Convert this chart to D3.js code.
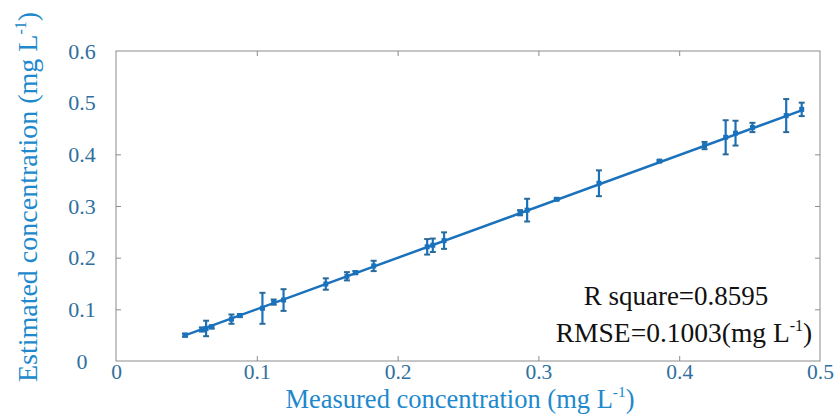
<!DOCTYPE html>
<html>
<head>
<meta charset="utf-8">
<script src="https://cdn.jsdelivr.net/npm/d3@7"></script>
<style>
  body { margin: 0; background: #fff; }
  svg text { font-family: "Liberation Serif", "Times New Roman", serif; }
</style>
</head>
<body>
<div id="chart"></div>
<script>
// measured vs estimated concentration (mg L-1), with error bar half-widths
const measured  = [0.049, 0.061, 0.064, 0.068, 0.082, 0.088, 0.104, 0.112, 0.119, 0.149, 0.164, 0.170, 0.183, 0.221, 0.225, 0.233, 0.287, 0.292, 0.313, 0.343, 0.386, 0.418, 0.433, 0.440, 0.452, 0.476, 0.487];
const estimated = [0.050, 0.061, 0.063, 0.066, 0.081, 0.088, 0.102, 0.114, 0.118, 0.149, 0.164, 0.171, 0.184, 0.221, 0.224, 0.233, 0.287, 0.292, 0.313, 0.344, 0.387, 0.417, 0.433, 0.441, 0.452, 0.475, 0.487];
const errors    = [0.003, 0.004, 0.015, 0.003, 0.009, 0.003, 0.030, 0.005, 0.021, 0.011, 0.008, 0.003, 0.010, 0.015, 0.013, 0.016, 0.005, 0.022, 0.002, 0.025, 0.002, 0.007, 0.033, 0.024, 0.009, 0.032, 0.013];

// fitted line end points
const fitX = [0.049, 0.487];
const fitY = [0.0495, 0.485];

const xTicks = [0, 0.1, 0.2, 0.3, 0.4, 0.5];
const yTicks = [0, 0.1, 0.2, 0.3, 0.4, 0.5, 0.6];

const statLines = ["R square=0.8595", "RMSE=0.1003(mg L"];

const margin = {top: 51, right: 18, bottom: 53, left: 116};
const W = 838, H = 414;
const width = W - margin.left - margin.right;
const height = H - margin.top - margin.bottom;

const blue = "#1a72bd";
const labelBlue = "#2088cc";
const tickBlue = "#2f709e";
const axisGray = "#8c8c8c";
const serif = '"Liberation Serif", "Times New Roman", serif';

const svg = d3.select("#chart")
    .append("svg")
    .attr("width", W)
    .attr("height", H)
    .append("g")
    .attr("transform", `translate(${margin.left},${margin.top})`);

const x = d3.scaleLinear().domain([0, 0.5]).range([0, width]);
const y = d3.scaleLinear().domain([0, 0.6]).range([height, 0]);

// box
svg.append("rect")
    .attr("width", width)
    .attr("height", height)
    .attr("fill", "none")
    .attr("stroke", axisGray)
    .attr("stroke-width", 1);

// axes with inward ticks
const styleAxis = g => {
    g.attr("font-family", serif);
    g.select(".domain").remove();
    g.selectAll(".tick line").attr("stroke", axisGray);
};

svg.append("g")
    .attr("transform", `translate(0,${height})`)
    .call(d3.axisBottom(x).tickValues(xTicks).tickSize(-5).tickFormat(d3.format("")))
    .call(styleAxis)
    .selectAll("text")
    .attr("y", 3)
    .attr("dy", "0.71em")
    .attr("fill", tickBlue)
    .style("font-family", serif)
    .style("font-size", "21.5px");

svg.append("g")
    .call(d3.axisTop(x).tickValues(xTicks).tickSize(-5).tickFormat(""))
    .call(styleAxis);

svg.append("g")
    .call(d3.axisLeft(y).tickValues(yTicks).tickSize(-5).tickFormat(d3.format("")))
    .call(styleAxis)
    .selectAll("text")
    .attr("x", -34)
    .attr("text-anchor", "middle")
    .attr("fill", tickBlue)
    .style("font-family", serif)
    .style("font-size", "22px");

svg.append("g")
    .attr("transform", `translate(${width},0)`)
    .call(d3.axisRight(y).tickValues(yTicks).tickSize(-5).tickFormat(""))
    .call(styleAxis);

svg.selectAll(".tick line").filter(d => d === 0 || d === 0.5 || d === 0.6).remove();

// fitted line
const pts = fitX.map((v, i) => [v, fitY[i]]);
svg.append("path")
    .datum(pts)
    .attr("fill", "none")
    .attr("stroke", blue)
    .attr("stroke-width", 2.5)
    .attr("d", d3.line().x(d => x(d[0])).y(d => y(d[1])));

// error bars
const data = measured.map((m, i) => ({m: m, e: estimated[i], err: errors[i]}));
const bars = svg.append("g").selectAll("g")
    .data(data)
    .join("g");

bars.append("line")
    .attr("x1", d => x(d.m)).attr("x2", d => x(d.m))
    .attr("y1", d => y(d.e - d.err)).attr("y2", d => y(d.e + d.err))
    .attr("stroke", blue)
    .attr("stroke-width", 2.2);

[-1, 1].forEach(s => {
    bars.append("line")
        .attr("x1", d => x(d.m) - 3).attr("x2", d => x(d.m) + 3)
        .attr("y1", d => y(d.e + s * d.err)).attr("y2", d => y(d.e + s * d.err))
        .attr("stroke", "#2a6a99")
        .attr("stroke-width", 2);
});

bars.append("rect")
    .attr("x", d => x(d.m) - 2.5)
    .attr("y", d => y(d.e) - 2.5)
    .attr("width", 5)
    .attr("height", 5)
    .attr("fill", blue);

// axis labels
const xl = svg.append("text")
    .attr("x", 344)
    .attr("y", height + 47)
    .attr("text-anchor", "middle")
    .attr("fill", labelBlue)
    .style("font-family", serif)
    .style("font-size", "26.5px");
xl.append("tspan").text("Measured concentration (mg L");
xl.append("tspan").attr("dy", -11).style("font-size", "15.5px").text("-1");
xl.append("tspan").attr("dy", 11).text(")");

const yl = svg.append("text")
    .attr("transform", "rotate(-90)")
    .attr("x", -(197 - margin.top))
    .attr("y", 37 - margin.left)
    .attr("text-anchor", "middle")
    .attr("fill", labelBlue)
    .style("font-family", serif)
    .style("font-size", "28px");
yl.append("tspan").text("Estimated concentration (mg L");
yl.append("tspan").attr("dy", -11).style("font-size", "16px").text("-1");
yl.append("tspan").attr("dy", 11).text(")");

// statistics
svg.append("text")
    .attr("x", 676 - margin.left)
    .attr("y", 305 - margin.top)
    .attr("text-anchor", "middle")
    .attr("fill", "#111")
    .style("font-family", serif)
    .style("font-size", "27px")
    .text(statLines[0]);

const st = svg.append("text")
    .attr("x", 684 - margin.left)
    .attr("y", 342 - margin.top)
    .attr("text-anchor", "middle")
    .attr("fill", "#111")
    .style("font-family", serif)
    .style("font-size", "27.5px");
st.append("tspan").text(statLines[1]);
st.append("tspan").attr("dy", -11).style("font-size", "16px").text("-1");
st.append("tspan").attr("dy", 11).text(")");
</script>
</body>
</html>
